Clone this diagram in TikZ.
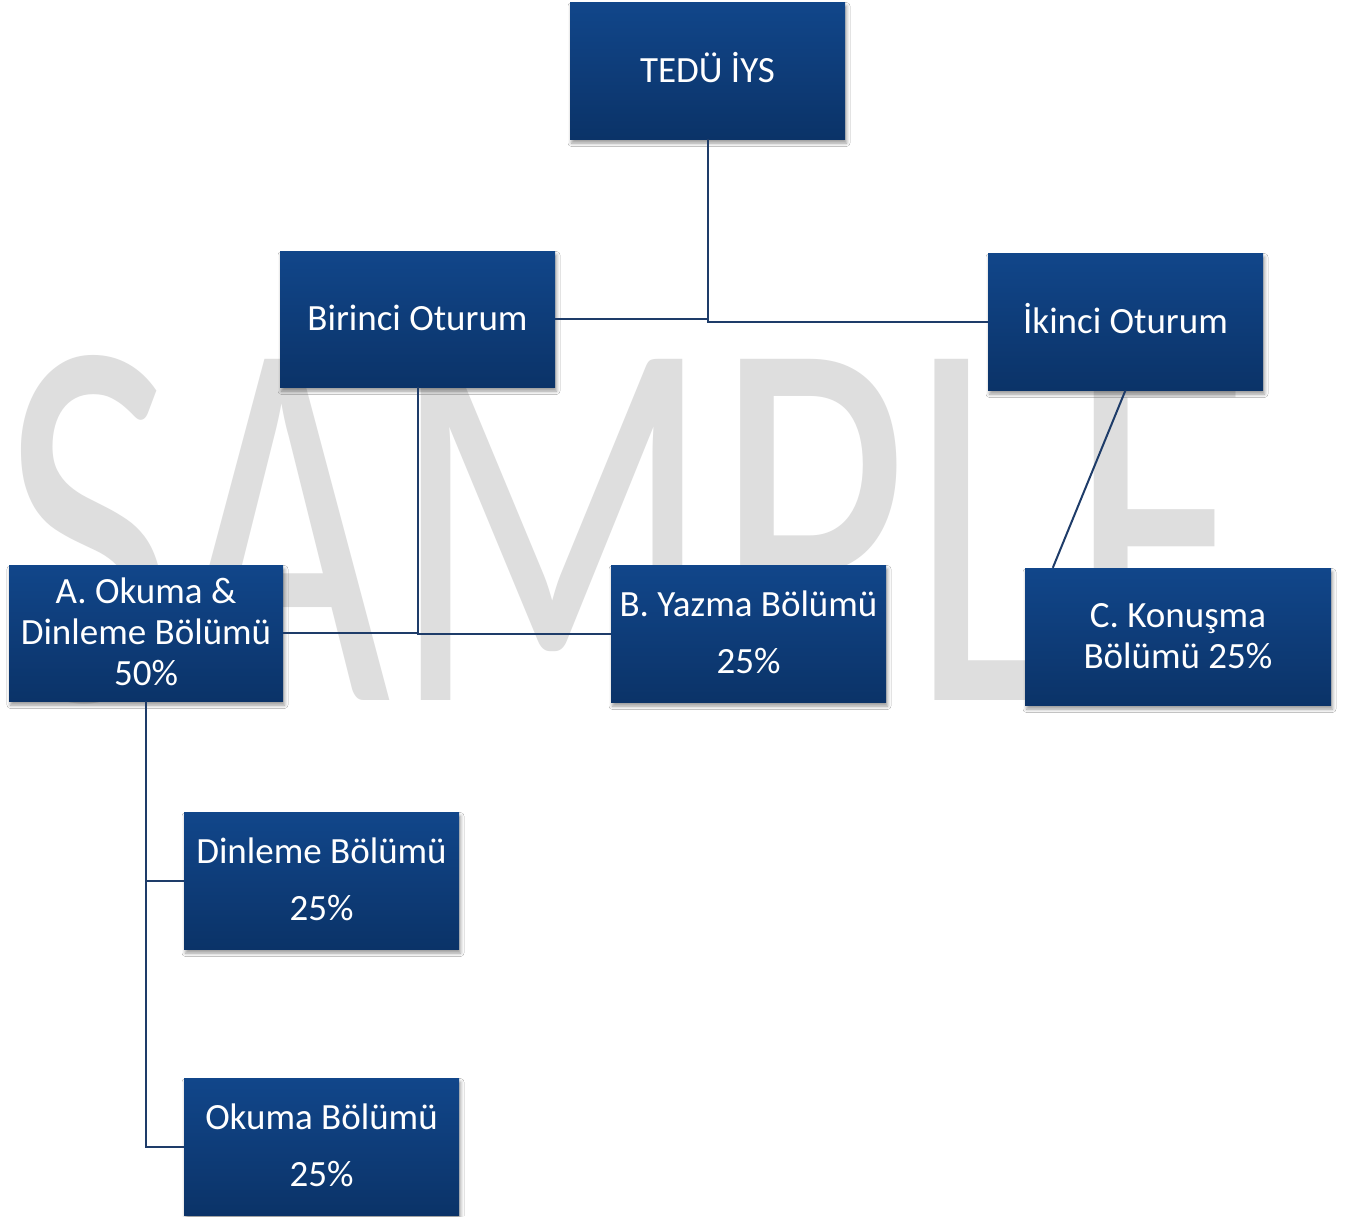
\documentclass[tikz,border=0pt]{standalone}
\usepackage{fontspec}
\setmainfont{Carlito}
\usepackage{graphicx}
\usetikzlibrary{shadows.blur,calc}
\definecolor{boxtop}{RGB}{17,70,138}
\definecolor{boxbot}{RGB}{11,51,104}
\definecolor{connc}{RGB}{30,60,105}
\definecolor{wmgray}{RGB}{222,222,222}
\tikzset{
  orgbox/.style={rectangle, inner sep=0pt, top color=boxtop, bottom color=boxbot,
    minimum width=275pt, minimum height=137pt, text=white, align=center,
    font=\fontsize{37}{41}\selectfont, text height=23.5pt, text depth=0pt,
    blur shadow={shadow xshift=1.5pt, shadow yshift=-4pt, shadow blur radius=3.5pt, shadow opacity=40}},
  threeline/.style={text height=105.5pt},
  twoline/.style={text height=64.5pt},
  twosep/.style={text height=80.5pt},
  conn/.style={draw=connc, line width=2pt},
}
\begin{document}
\begin{tikzpicture}[x=1pt,y=-1pt]
\useasboundingbox (0,0) rectangle (1351,1216);
\fill[white] (0,0) rectangle (1351,1216);
% watermark
\node[anchor=south west, inner sep=0pt, text=wmgray] (wm) at (1,704)
  {\resizebox{1247pt}{344pt}{SAMPLE}};
% boxes
\node[orgbox] (tedu) at (707.5,70.5) {TEDÜ İYS};
\node[orgbox, minimum height=136pt] (bir) at (417.5,319) {Birinci Oturum};
\node[orgbox] (iki) at (1125.5,321.5) {İkinci Oturum};
\node[orgbox, threeline, minimum width=274pt, minimum height=136pt] (a) at (146,633) {A. Okuma \&\\Dinleme Bölümü\\50\%};
\node[orgbox, twosep] (b) at (748.5,633.5) {B. Yazma Bölümü\\[16pt]25\%};
\node[orgbox, twoline, minimum width=306pt] (c) at (1178,636.5) {C. Konuşma\\Bölümü 25\%};
\node[orgbox, twosep] (din) at (321.5,880.5) {Dinleme Bölümü\\[16pt]25\%};
\node[orgbox, twosep] (oku) at (321.5,1146.5) {Okuma Bölümü\\[16pt]25\%};
\coordinate (cjoin) at ($(c.north west)+(28,0)$);
% connectors
\draw[conn] (tedu.south) |- (bir.east);
\draw[conn] (tedu.south) |- (iki.west);
\draw[conn] (bir.south) |- (a.east);
\draw[conn] (bir.south) |- (b.west);
\draw[conn] (iki.south) -- (cjoin);
\draw[conn] (a.south) |- (din.west);
\draw[conn] (a.south) |- (oku.west);
\end{tikzpicture}
\end{document}
